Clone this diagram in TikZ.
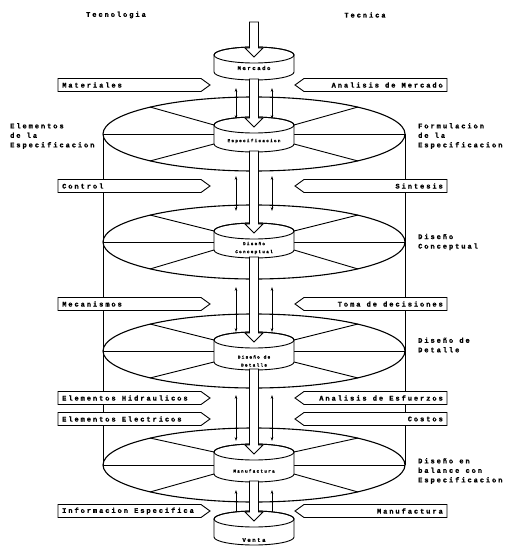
\documentclass[tikz,border=0pt]{standalone}
\usepackage{fontspec}
\newfontfamily\dotf[LetterSpace=28,BoldFont={Liberation Mono Bold},BoldFeatures={FakeBold=1.2}]{Liberation Mono}
\usetikzlibrary{arrows.meta,calc}
\tikzset{
  big/.style={font=\dotf\bfseries\fontsize{7}{9.5}\selectfont, inner sep=0pt, align=left},
  cyltxt/.style={font=\dotf\bfseries\fontsize{5.6}{6}\selectfont, inner sep=0pt, align=center},
  tinytxt/.style={font=\dotf\bfseries\fontsize{4.4}{8}\selectfont, inner sep=0pt, align=center},
  outline/.style={line width=0.9pt},
  discline/.style={line width=1.1pt},
  panel/.style={line width=0.9pt, fill=white},
  sarrow/.style={line width=0.6pt, {Stealth[length=4pt,width=2.6pt]}-{Stealth[length=4pt,width=2.6pt]}},
}
% cylinder: name, top-ellipse y, bottom-ellipse y, label y, text, style
\newcommand\cylinder[6]{%
  \draw[outline, fill=white] (214,#2) -- (214,#3)
     arc[start angle=180,end angle=0,x radius=40,y radius=8] -- (294,#2)
     arc[start angle=0,end angle=-180,x radius=40,y radius=8] -- cycle;
  \draw[outline] (254,#2) ellipse[x radius=40,y radius=8];
  \coordinate (#1-top) at (254,#2+2);
  \coordinate (#1-bot) at (254,#3+7);
  \node[#6] (#1) at (254,#4) {#5};
}
% disc: midline y, cylinder top y, cylinder bottom y
\newcommand\disc[3]{%
  \draw[discline] (254,#1) ellipse[x radius=151,y radius=37];
  \draw[outline] (103,#1) -- (214,#1) (294,#1) -- (405,#1);
  \draw[outline] (150,#1-27) -- (214,#2) (150,#1+27) -- (214,#3)
                 (358,#1-27) -- (294,#2) (358,#1+27) -- (294,#3);
}
% left panel: name, y, text
\newcommand\panelL[3]{%
  \draw[panel] (58,#2-6.5) -- (201,#2-6.5) -- (210,#2) -- (201,#2+6.5) -- (58,#2+6.5) -- cycle;
  \node[big, anchor=west] (#1) at (62,#2) {#3};
}
\newcommand\panelR[3]{%
  \draw[panel] (447,#2-6.5) -- (304,#2-6.5) -- (295,#2) -- (304,#2+6.5) -- (447,#2+6.5) -- cycle;
  \node[big, anchor=east] (#1) at (443,#2) {#3};
}
% hollow arrow from coordinate #1 to tip #2
\newcommand\hollow[2]{%
  \draw[outline, fill=white] let \p1=(#1), \p2=(#2) in
    (\x1-4.5pt,\y1) -- (\x1-4.5pt,\y2+9pt) -- (\x1-9pt,\y2+9pt) -- (\x1,\y2)
    -- (\x1+9pt,\y2+9pt) -- (\x1+4.5pt,\y2+9pt) -- (\x1+4.5pt,\y1) -- cycle;
}
% pair of thin arrows: tag, y1, y2
\newcommand\thinpair[3]{%
  \coordinate (#1-l1) at (236,#2); \coordinate (#1-l2) at (236,#3);
  \coordinate (#1-r1) at (272,#2); \coordinate (#1-r2) at (272,#3);
  \draw[sarrow] (#1-l1) -- (#1-l2);
  \draw[sarrow] (#1-r1) -- (#1-r2);
}
\begin{document}
\begin{tikzpicture}[x=1pt,y=-1pt]
\useasboundingbox (0,0) rectangle (507,548);
\fill[white] (0,0) rectangle (507,548);

% headers
\node[big] (tecnologia) at (116,15) {Tecnologia};
\node[big] (tecnica) at (365,15) {Tecnica};

% outer cylinder walls
\draw[outline] (103,134) -- (103,465);
\draw[outline] (405,134) -- (405,465);

% discs
\disc{134}{125}{144}
\disc{242}{231}{250}
\disc{351}{340}{362}
\disc{465}{452}{474}

% side labels
\node[big, anchor=west] (elem) at (10,136) {Elementos\\de la\\Especificacion};
\node[big, anchor=west] (form) at (418,136) {Formulacion\\de la\\Especificacion};
\node[big, anchor=west] (dconc) at (418,242) {Diseño\\Conceptual};
\node[big, anchor=west] (ddet) at (418,345) {Diseño de\\Detalle};
\node[big, anchor=west] (dbal) at (418,471) {Diseño en\\balance con\\Especificacion};

% panels
\panelL{materiales}{85}{Materiales}
\panelR{anmercado}{85}{Analisis de Mercado}
\panelL{control}{186}{Control}
\panelR{sintesis}{186}{Sintesis}
\panelL{mecanismos}{304}{Mecanismos}
\panelR{toma}{304}{Toma de decisiones}
\panelL{hidraulicos}{398}{Elementos Hidraulicos}
\panelR{esfuerzos}{398}{Analisis de Esfuerzos}
\panelL{electricos}{419}{Elementos Electricos}
\panelR{costos}{419}{Costos}
\panelL{infoesp}{511}{Informacion Especifica}
\panelR{manuf}{511}{Manufactura}

% thin arrows
\thinpair{A}{88}{119}
\thinpair{B}{176}{211}
\thinpair{C}{287}{332}
\thinpair{D}{395}{441}
\thinpair{F}{490}{522}

% cylinders
\cylinder{mercado}{55}{72}{68}{Mercado}{cyltxt}
\cylinder{especificacion}{125}{144}{141}{Especificacion}{tinytxt}
\cylinder{conceptual}{231}{250}{248}{Diseño\\Conceptual}{tinytxt}
\cylinder{detalle}{340}{362}{361}{Diseño de\\Detalle}{tinytxt}
\cylinder{manufactura}{452}{474}{471}{Manufactura}{tinytxt}
\cylinder{venta}{519}{537}{540}{Venta}{cyltxt}

% hollow arrows
\coordinate (input) at (254,22);
\hollow{input}{mercado-top}
\hollow{mercado-bot}{especificacion-top}
\hollow{especificacion-bot}{conceptual-top}
\hollow{conceptual-bot}{detalle-top}
\hollow{detalle-bot}{manufactura-top}
\hollow{manufactura-bot}{venta-top}
\end{tikzpicture}
\end{document}
